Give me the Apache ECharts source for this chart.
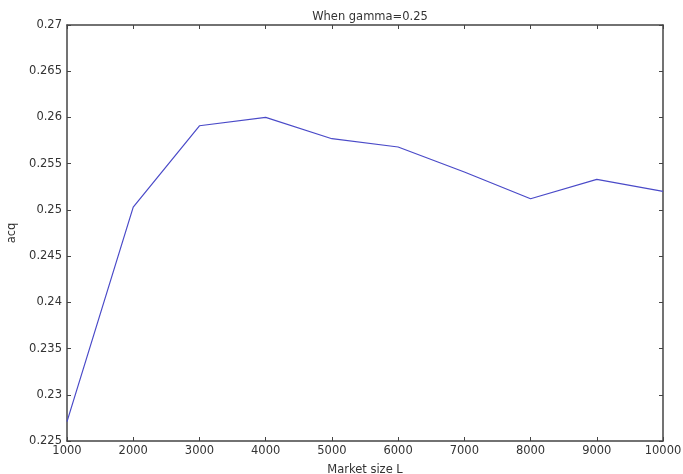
<!DOCTYPE html>
<html><head><meta charset="utf-8">
<script src="https://cdn.jsdelivr.net/npm/echarts@6/dist/echarts.min.js"></script>
<style>html,body{margin:0;padding:0;background:#fff}#c{width:683px;height:474px}</style>
</head><body><div id="c"></div>
<script>
const marketSize = [1000, 2000, 3000, 4000, 5000, 6000, 7000, 8000, 9000, 10000];
const acq = [0.2271, 0.2503, 0.2591, 0.2600, 0.2577, 0.2568, 0.2541, 0.2512, 0.2533, 0.2520];
const titleText = 'When gamma=0.25';
const xName = 'Market size L';
const yName = 'acq';

const font = 'DejaVu Sans, Verdana, sans-serif';
const fs = 11.5;
const axisLine = {show: true, lineStyle: {color: '#444', width: 1.5}};
const tick = {show: true, inside: true, length: 4, lineStyle: {color: '#444', width: 1}};
const chart = echarts.init(document.getElementById('c'));
chart.setOption({
  animation: false,
  backgroundColor: '#fff',
  title: {text: titleText, left: 365, textAlign: 'center', top: 6,
    textStyle: {fontFamily: font, fontSize: fs, fontWeight: 'normal', color: '#333'}},
  grid: {left: 67, right: 20, top: 25, bottom: 33, containLabel: false, outerBoundsMode: 'none'},
  xAxis: [{
    type: 'value', min: 1000, max: 10000, interval: 1000,
    name: xName, nameLocation: 'middle', nameGap: 23,
    nameTextStyle: {fontFamily: font, fontSize: fs, color: '#333'},
    axisLine: axisLine, axisTick: tick, splitLine: {show: false},
    axisLabel: {fontFamily: font, fontSize: fs, color: '#333', margin: 4,
      formatter: v => String(v)}
  }, {
    type: 'value', position: 'top', min: 1000, max: 10000, interval: 1000,
    axisLine: axisLine, axisTick: tick, splitLine: {show: false}, axisLabel: {show: false}
  }],
  yAxis: [{
    type: 'value', min: 0.225, max: 0.27, interval: 0.005,
    name: yName, nameLocation: 'middle', nameGap: 43,
    nameTextStyle: {fontFamily: font, fontSize: fs, color: '#333'},
    axisLine: axisLine, axisTick: tick, splitLine: {show: false},
    axisLabel: {fontFamily: font, fontSize: fs, color: '#333', margin: 5,
      formatter: v => String(parseFloat(v.toFixed(3)))}
  }, {
    type: 'value', position: 'right', min: 0.225, max: 0.27, interval: 0.005,
    axisLine: axisLine, axisTick: tick, splitLine: {show: false}, axisLabel: {show: false}
  }],
  series: [{
    type: 'line', xAxisIndex: 0, yAxisIndex: 0,
    data: marketSize.map((x, i) => [x, acq[i]]),
    symbol: 'none', lineStyle: {color: '#4a4ac8', width: 1.2}
  }]
});
</script></body></html>
